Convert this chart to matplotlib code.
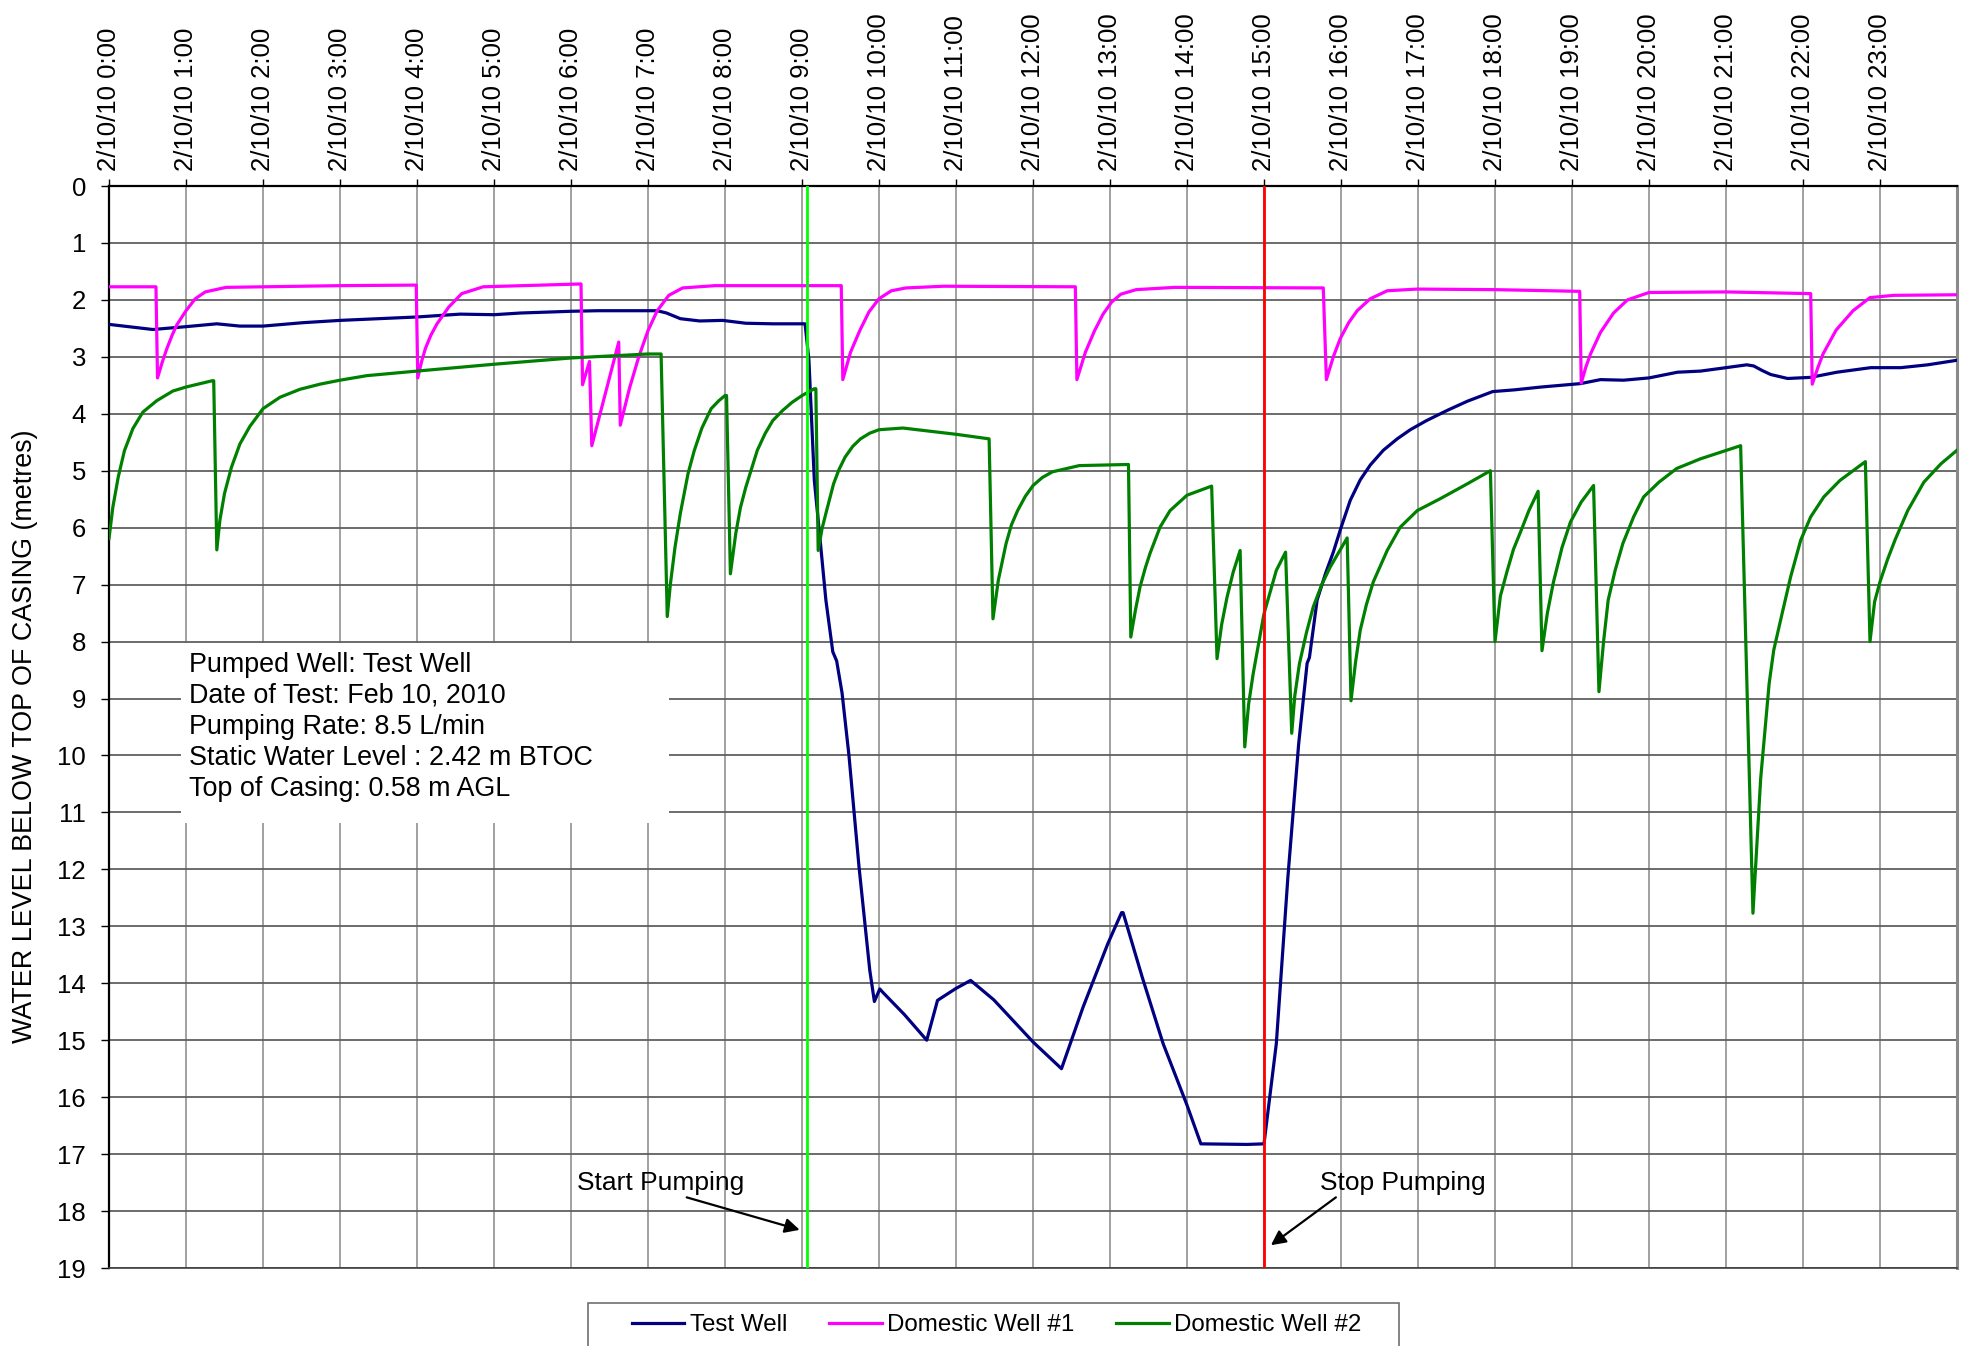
import matplotlib
matplotlib.use("Agg")
import matplotlib.pyplot as plt
from matplotlib.patches import Rectangle
from matplotlib.lines import Line2D

plt.rcParams['font.family'] = ['Liberation Sans', 'DejaVu Sans']

# ---------------- data (time in hours after 2/10/10 0:00, level in m BTOC) -------------
test_t = [0, 0.57, 1.0, 1.4, 1.7, 2.0, 2.52, 3.0, 4.0, 4.56, 5.0, 5.35, 6.0, 6.35,
          7.12, 7.24, 7.42, 7.67, 7.97, 8.27, 8.62, 9.04, 9.09, 9.16, 9.24, 9.31, 9.40, 9.45,
          9.52, 9.61, 9.74, 9.88, 9.94, 10.01, 10.05, 10.33, 10.62, 10.76, 11.0, 11.19, 11.49,
          12.0, 12.37, 12.65, 12.97, 13.15, 13.17, 13.42, 13.69, 14.0, 14.18, 14.78, 15.0,
          15.16, 15.31, 15.45, 15.56, 15.59, 15.69, 15.8, 15.9, 16.0, 16.12, 16.25, 16.38,
          16.55, 16.73, 16.9, 17.11, 17.38, 17.64, 17.97, 18.25, 18.6, 19.11, 19.37, 19.67,
          20.0, 20.37, 20.67, 21.0, 21.27, 21.36, 21.47, 21.58, 21.8, 22.1, 22.44, 22.88,
          23.27, 23.62, 24.0]
test_wl = [2.43, 2.52, 2.47, 2.42, 2.46, 2.46, 2.40, 2.36, 2.30, 2.25, 2.26, 2.23, 2.20,
           2.19, 2.19, 2.23, 2.33, 2.37, 2.36, 2.41, 2.42, 2.42, 3.06, 5.17, 6.28, 7.27, 8.18,
           8.34, 8.90, 10.0, 11.95, 13.77, 14.32, 14.10, 14.16, 14.55, 15.0, 14.30, 14.09,
           13.95, 14.29, 15.03, 15.50, 14.42, 13.31, 12.76, 12.76, 13.90, 15.06, 16.14, 16.82,
           16.83, 16.82, 15.06, 12.14, 9.80, 8.38, 8.28, 7.27, 6.80, 6.43, 6.00, 5.52, 5.16,
           4.90, 4.64, 4.44, 4.28, 4.12, 3.94, 3.78, 3.61, 3.58, 3.53, 3.47, 3.40, 3.41,
           3.37, 3.27, 3.25, 3.19, 3.14, 3.16, 3.24, 3.31, 3.38, 3.36, 3.27, 3.19, 3.19,
           3.14, 3.06]

dw1_t = [0, 0.61, 0.63, 0.69, 0.75, 0.82, 0.88, 1.0, 1.12, 1.25, 1.52, 3.0, 3.99, 4.01,
         4.06, 4.11, 4.18, 4.26, 4.41, 4.58, 4.86, 6.13, 6.15, 6.24, 6.27, 6.62, 6.64, 6.76,
         6.88, 7.0, 7.12, 7.27, 7.45, 7.87, 9.51, 9.53, 9.63, 9.75, 9.87, 10.0, 10.16, 10.35,
         10.84, 12.55, 12.57, 12.68, 12.8, 12.91, 13.02, 13.14, 13.34, 13.84, 15.77, 15.81,
         15.9, 15.99, 16.1, 16.21, 16.38, 16.6, 16.99, 18.0, 19.1, 19.12, 19.18, 19.24, 19.37,
         19.54, 19.72, 20.0, 21.0, 22.1, 22.12, 22.19, 22.26, 22.43, 22.65, 22.87, 23.18,
         24.0]
dw1_wl = [1.77, 1.77, 3.37, 3.1, 2.86, 2.62, 2.44, 2.19, 1.98, 1.86, 1.78, 1.75, 1.74, 3.37,
          3.08, 2.85, 2.62, 2.42, 2.13, 1.89, 1.77, 1.72, 3.49, 3.08, 4.56, 2.74, 4.20, 3.55,
          3.00, 2.54, 2.19, 1.92, 1.79, 1.75, 1.75, 3.40, 2.92, 2.54, 2.21, 1.98, 1.84, 1.79,
          1.76, 1.77, 3.40, 2.92, 2.54, 2.25, 2.04, 1.90, 1.82, 1.78, 1.79, 3.40, 3.0, 2.68,
          2.40, 2.19, 1.98, 1.84, 1.81, 1.82, 1.85, 3.46, 3.18, 2.95, 2.57, 2.23, 2.00, 1.87,
          1.86, 1.89, 3.48, 3.2, 2.95, 2.53, 2.19, 1.96, 1.92, 1.91]

dw2_t = [0.0, 0.05, 0.12, 0.2, 0.31, 0.44, 0.62, 0.83, 1.0, 1.34, 1.36, 1.40, 1.44, 1.5,
         1.59, 1.7, 1.83, 2.0, 2.22, 2.48, 2.74, 3.0, 3.35, 4.0, 5.0, 6.0, 7.0, 7.17, 7.25,
         7.29, 7.35, 7.42, 7.52, 7.6, 7.7, 7.82, 7.92, 8.0, 8.02, 8.07, 8.14, 8.2, 8.27, 8.42,
         8.52, 8.62, 8.75, 8.87, 9.0, 9.16, 9.18, 9.21, 9.26, 9.31, 9.41, 9.48, 9.56, 9.66,
         9.76, 9.88, 10.0, 10.31, 11.0, 11.43, 11.48, 11.55, 11.65, 11.72, 11.8, 11.9, 12.0,
         12.12, 12.25, 12.6, 13.24, 13.27, 13.33, 13.39, 13.46, 13.52, 13.65, 13.78, 14.0,
         14.32, 14.39, 14.45, 14.52, 14.6, 14.69, 14.75, 14.8, 14.86, 15.0, 15.16, 15.28,
         15.36, 15.4, 15.46, 15.55, 15.64, 15.75, 15.86, 16.08, 16.13, 16.19, 16.25, 16.33,
         16.42, 16.6, 16.77, 16.99, 17.29, 17.64, 17.94, 18.0, 18.07, 18.16, 18.24, 18.33,
         18.44, 18.56, 18.61, 18.68, 18.76, 18.87, 18.98, 19.12, 19.28, 19.35, 19.41, 19.47,
         19.56, 19.66, 19.8, 19.93, 20.13, 20.36, 20.67, 21.19, 21.35, 21.45, 21.56, 21.62,
         21.73, 21.84, 21.97, 22.1, 22.27, 22.48, 22.81, 22.87, 22.93, 23.0, 23.1, 23.2,
         23.36, 23.57, 23.79, 24.0]
dw2_wl = [6.19, 5.64, 5.11, 4.65, 4.26, 3.97, 3.77, 3.60, 3.53, 3.42, 3.42, 6.39, 5.87, 5.40,
          4.94, 4.53, 4.22, 3.91, 3.71, 3.57, 3.48, 3.41, 3.33, 3.25, 3.13, 3.02, 2.95, 2.95,
          7.56, 7.00, 6.35, 5.75, 5.05, 4.65, 4.25, 3.91, 3.77, 3.68, 3.68, 6.81, 6.10, 5.65,
          5.29, 4.64, 4.35, 4.12, 3.94, 3.80, 3.68, 3.56, 3.56, 6.40, 6.02, 5.75, 5.23, 4.98,
          4.76, 4.57, 4.44, 4.34, 4.28, 4.25, 4.36, 4.44, 7.60, 6.92, 6.28, 5.95, 5.70, 5.45,
          5.26, 5.12, 5.02, 4.91, 4.89, 7.92, 7.45, 7.04, 6.7, 6.45, 5.99, 5.70, 5.43, 5.27,
          8.30, 7.7, 7.22, 6.78, 6.40, 9.85, 9.1, 8.56, 7.51, 6.75, 6.43, 9.61, 8.95, 8.39,
          7.85, 7.39, 7.0, 6.69, 6.18, 9.04, 8.35, 7.80, 7.35, 6.95, 6.40, 5.99, 5.70, 5.49,
          5.23, 5.00, 8.00, 7.2, 6.75, 6.38, 6.08, 5.70, 5.36, 8.16, 7.5, 6.95, 6.35, 5.90,
          5.55, 5.26, 8.88, 8.00, 7.27, 6.75, 6.28, 5.81, 5.46, 5.20, 4.96, 4.79, 4.56, 12.77,
          10.41, 8.74, 8.15, 7.50, 6.86, 6.22, 5.81, 5.46, 5.17, 4.84, 8.00, 7.30, 6.95, 6.55,
          6.20, 5.70, 5.20, 4.88, 4.64]

series_names = ["Test Well", "Domestic Well #1", "Domestic Well #2"]
hours = list(range(0, 24))
x_labels = ["2/10/10 %d:00" % h for h in hours]
y_ticks = list(range(0, 20))
start_pumping = 9.06
stop_pumping = 15.0
info_lines = ["Pumped Well: Test Well",
              "Date of Test: Feb 10, 2010",
              "Pumping Rate: 8.5 L/min",
              "Static Water Level : 2.42 m BTOC",
              "Top of Casing: 0.58 m AGL"]

# ---------------- figure ----------------
W, H = 1967, 1346
fig = plt.figure(figsize=(W / 100, H / 100), dpi=100)
ax = fig.add_axes([109 / W, 1 - 1268 / H, (1957 - 109) / W, (1268 - 186) / H])

lw = 2.3
colors = ['#000080', '#FF00FF', '#008000']
ax.plot(test_t, test_wl, color=colors[0], lw=lw, zorder=4, solid_joinstyle='round')
ax.plot(dw1_t, dw1_wl, color=colors[1], lw=lw, zorder=4, solid_joinstyle='round')
ax.plot(dw2_t, dw2_wl, color=colors[2], lw=lw, zorder=4, solid_joinstyle='round')

ax.axvline(start_pumping, color='#00FF00', lw=2.0, zorder=5)
ax.axvline(stop_pumping, color='#FF0000', lw=2.0, zorder=5)

ax.set_xlim(0, 24)
ax.set_ylim(19, 0)
ax.set_xticks(hours)
ax.set_xticklabels(x_labels, rotation=90, fontsize=18.5)
ax.set_yticks(y_ticks)
ax.set_yticklabels([str(v) for v in y_ticks], fontsize=18.5)
ax.xaxis.tick_top()
ax.tick_params(axis='x', which='both', direction='out', length=5, width=1, pad=6, top=True,
               bottom=False)
ax.tick_params(axis='y', direction='out', length=5.5, width=1, pad=11)

ax.xaxis.grid(True, color='#9a9a9a', lw=1.3, zorder=0)
ax.yaxis.grid(True, color='#606060', lw=1.3, zorder=0)
ax.set_axisbelow(True)

for s in ['left', 'top']:
    ax.spines[s].set_color('black')
    ax.spines[s].set_linewidth(1.6)
ax.spines['right'].set_color('#8a8a8a')
ax.spines['right'].set_linewidth(2.2)
ax.spines['bottom'].set_color('#404040')
ax.spines['bottom'].set_linewidth(1.2)

ax.set_ylabel("WATER LEVEL BELOW TOP OF CASING (metres)", fontsize=19.4)
ax.yaxis.set_label_coords(-0.0385, 0.491)

# info box
ax.add_patch(Rectangle((0.94, 8.02), 7.27 - 0.94, 11.18 - 8.02, facecolor='white',
                       edgecolor='none', zorder=2))
for i, line in enumerate(info_lines):
    ax.text(1.04, 8.41 + i * 0.543, line, fontsize=19.4, ha='left', va='center', zorder=3)

# annotations
arrow = dict(arrowstyle='-|>', color='black', lw=1.6, mutation_scale=22, shrinkA=0, shrinkB=0)
ax.annotate("Start Pumping", xy=(8.97, 18.33), xytext=(7.16, 17.5), fontsize=19,
            ha='center', va='center', arrowprops=dict(arrow, relpos=(0.6, 0.0)), zorder=6)
ax.annotate("Stop Pumping", xy=(15.09, 18.6), xytext=(16.8, 17.5), fontsize=19,
            ha='center', va='center', arrowprops=dict(arrow, relpos=(0.12, 0.0)), zorder=6)

# legend (entries without frame, frame drawn as a box reaching the bottom edge)
handles = [Line2D([], [], color=c, lw=lw) for c in colors]
leg = fig.legend(handles, series_names, loc='center', bbox_to_anchor=(996.7 / W, 1 - 1325 / H),
                 ncol=3, fontsize=17.4, frameon=False, handlelength=2.17, handletextpad=0.22,
                 columnspacing=1.75, borderpad=0.3)
fig.patches.append(Rectangle((588 / W, -0.01), (1399 - 588) / W, (1346 - 1303) / H + 0.01,
                             transform=fig.transFigure, facecolor='none',
                             edgecolor='#707070', lw=1.2))

fig.savefig("out.png", dpi=100)
